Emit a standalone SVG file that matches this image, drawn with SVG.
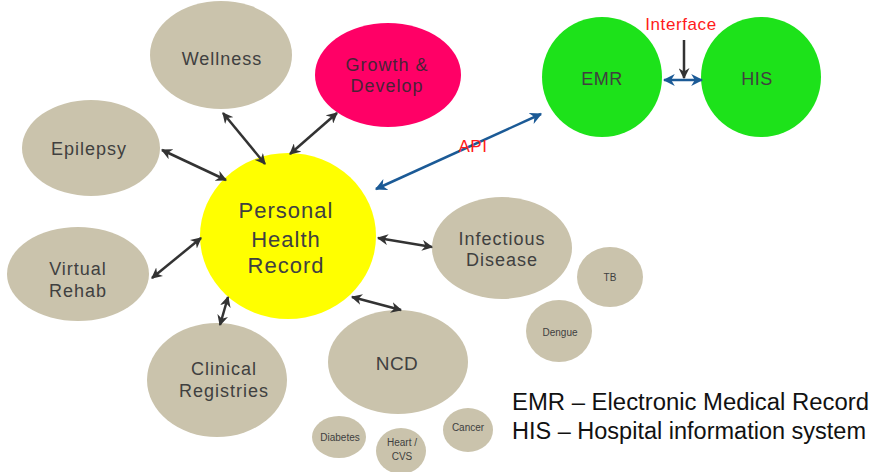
<svg xmlns="http://www.w3.org/2000/svg" width="880" height="472" viewBox="0 0 880 472">
  <defs>
    <marker id="ah" viewBox="0 0 10 10" refX="9" refY="5" markerWidth="11" markerHeight="11" markerUnits="userSpaceOnUse" orient="auto-start-reverse">
      <path d="M0,0 L10,5 L0,10 L3,5 z" fill="#333333"/>
    </marker>
    <marker id="ahb" viewBox="0 0 10 10" refX="9" refY="5" markerWidth="12" markerHeight="12" markerUnits="userSpaceOnUse" orient="auto-start-reverse">
      <path d="M0,0 L10,5 L0,10 L3,5 z" fill="#1B5A96"/>
    </marker>
  </defs>
  <style>
    .tan { fill: #CAC3AC; }
    .green { fill: #1DE21A; }
    text { font-family: "Liberation Sans", Arial, sans-serif; fill: #404040; text-anchor: middle; }
    .lbl { font-size: 18px; letter-spacing: 1px; }
    .sm { font-size: 10px; }
    .red { fill: #FF1A1A; font-size: 17px; letter-spacing: 0.6px; }
    .leg { fill: #111111; font-size: 23px; text-anchor: start; }
    .conn { stroke: #333333; stroke-width: 2.5; fill: none; marker-start: url(#ah); marker-end: url(#ah); }
    .blue { stroke: #1B5A96; stroke-width: 2.5; fill: none; marker-start: url(#ahb); marker-end: url(#ahb); }
  </style>

  <g id="wellness">
    <ellipse class="tan" cx="221" cy="55" rx="71" ry="54"/>
    <text class="lbl" x="222" y="65">Wellness</text>
  </g>
  <g id="growth">
    <ellipse cx="388" cy="75" rx="73" ry="52" fill="#FF0066"/>
    <text class="lbl" x="387" y="71" style="fill:#4a2236">Growth &amp;</text>
    <text class="lbl" x="387" y="92" style="fill:#4a2236">Develop</text>
  </g>
  <g id="epilepsy">
    <ellipse class="tan" cx="91" cy="148" rx="69" ry="48"/>
    <text class="lbl" x="89" y="155">Epilepsy</text>
  </g>
  <g id="virtual-rehab">
    <ellipse class="tan" cx="78" cy="274" rx="71" ry="47"/>
    <text class="lbl" x="78" y="275">Virtual</text>
    <text class="lbl" x="78" y="297">Rehab</text>
  </g>
  <g id="clinical-registries">
    <ellipse class="tan" cx="217" cy="380" rx="70" ry="57"/>
    <text class="lbl" x="224" y="375">Clinical</text>
    <text class="lbl" x="224" y="397">Registries</text>
  </g>
  <g id="ncd">
    <ellipse class="tan" cx="398" cy="362" rx="70" ry="52"/>
    <text class="lbl" x="397" y="370" style="font-size:19px;letter-spacing:0.5px">NCD</text>
  </g>
  <g id="infectious-disease">
    <ellipse class="tan" cx="502" cy="248" rx="70" ry="51"/>
    <text class="lbl" x="502" y="245">Infectious</text>
    <text class="lbl" x="502" y="266">Disease</text>
  </g>
  <g id="tb">
    <ellipse class="tan" cx="610" cy="277" rx="33" ry="30"/>
    <text class="sm" x="610" y="281">TB</text>
  </g>
  <g id="dengue">
    <ellipse class="tan" cx="559" cy="331" rx="33" ry="31"/>
    <text class="sm" x="560" y="336">Dengue</text>
  </g>
  <g id="diabetes">
    <ellipse class="tan" cx="339" cy="437" rx="27" ry="21"/>
    <text class="sm" x="340" y="441">Diabetes</text>
  </g>
  <g id="heart-cvs">
    <ellipse class="tan" cx="401" cy="451" rx="25" ry="23"/>
    <text class="sm" x="402" y="446">Heart  /</text>
    <text class="sm" x="402" y="460">CVS</text>
  </g>
  <g id="cancer">
    <ellipse class="tan" cx="468" cy="430" rx="25" ry="22"/>
    <text class="sm" x="468" y="431">Cancer</text>
  </g>
  <g id="phr">
    <ellipse cx="288" cy="236" rx="88" ry="83" fill="#FFFF00"/>
    <text x="286" y="218" style="font-size:22px;letter-spacing:1px">Personal</text>
    <text x="286" y="247" style="font-size:22px;letter-spacing:1px">Health</text>
    <text x="286" y="273" style="font-size:22px;letter-spacing:1px">Record</text>
  </g>
  <g id="emr">
    <ellipse class="green" cx="602" cy="77" rx="60" ry="60"/>
    <text class="lbl" x="602" y="85" style="letter-spacing:0.5px">EMR</text>
  </g>
  <g id="his">
    <ellipse class="green" cx="761" cy="77" rx="60" ry="60"/>
    <text class="lbl" x="757" y="85" style="letter-spacing:0.5px">HIS</text>
  </g>

  <g id="connectors">
    <line class="conn" x1="223" y1="113" x2="265" y2="164"/>
    <line class="conn" x1="337" y1="113" x2="290" y2="154"/>
    <line class="conn" x1="162" y1="150" x2="226" y2="180"/>
    <line class="conn" x1="152" y1="278" x2="201" y2="238"/>
    <line class="conn" x1="220" y1="325" x2="228" y2="297"/>
    <line class="conn" x1="352" y1="297" x2="401" y2="310"/>
    <line class="conn" x1="378" y1="238" x2="432" y2="247"/>
    <line class="blue" x1="376" y1="189" x2="541" y2="114"/>
    <line class="blue" x1="664" y1="80" x2="702" y2="80"/>
    <line x1="684" y1="40" x2="684" y2="78" stroke="#333333" stroke-width="2.5" marker-end="url(#ah)"/>
  </g>

  <g id="labels">
    <text class="red" x="681" y="30">Interface</text>
    <text class="red" x="473" y="152">API</text>
    <text class="leg" x="512" y="410" textLength="357" lengthAdjust="spacingAndGlyphs">EMR  – Electronic Medical Record</text>
    <text class="leg" x="512" y="439" textLength="354" lengthAdjust="spacingAndGlyphs">HIS – Hospital information system</text>
  </g>
</svg>
